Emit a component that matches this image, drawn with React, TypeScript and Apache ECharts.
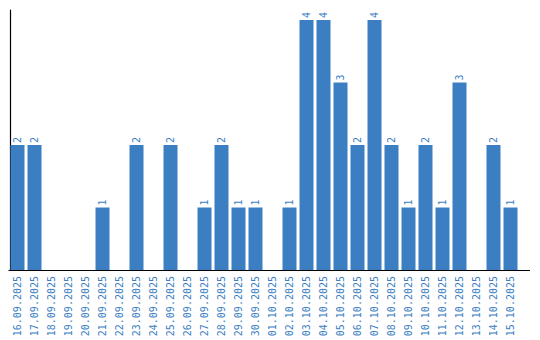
import React, { useEffect, useRef } from "react";
import * as echarts from "echarts";

const categories: string[] = [
  "16.09.2025", "17.09.2025", "18.09.2025", "19.09.2025", "20.09.2025",
  "21.09.2025", "22.09.2025", "23.09.2025", "24.09.2025", "25.09.2025",
  "26.09.2025", "27.09.2025", "28.09.2025", "29.09.2025", "30.09.2025",
  "01.10.2025", "02.10.2025", "03.10.2025", "04.10.2025", "05.10.2025",
  "06.10.2025", "07.10.2025", "08.10.2025", "09.10.2025", "10.10.2025",
  "11.10.2025", "12.10.2025", "13.10.2025", "14.10.2025", "15.10.2025",
];

const counts: number[] = [
  2, 2, 0, 0, 0, 1, 0, 2, 0, 2,
  0, 1, 2, 1, 1, 0, 1, 4, 4, 3,
  2, 4, 2, 1, 2, 1, 3, 0, 2, 1,
];

const BLUE = "#3b7ec2";
const FONT = "DejaVu Sans Mono";

export default function App() {
  const ref = useRef<HTMLDivElement>(null);
  useEffect(() => {
    if (!ref.current) return;
    const chart = echarts.init(ref.current, undefined, { renderer: "svg" });
    const gridLeft = 9;
    const gridTop = 10;
    const gridHeight = 260;
    const gridWidth = 510;
    chart.setOption({
      animation: false,
      grid: { left: gridLeft, top: gridTop, width: gridWidth, height: gridHeight },
      xAxis: {
        type: "category",
        data: categories,
        axisLine: { show: true, lineStyle: { color: "#000", width: 1 } },
        axisTick: { show: false },
        axisLabel: {
          rotate: 90,
          interval: 0,
          margin: 6,
          color: BLUE,
          fontFamily: FONT,
          fontSize: 10,
        },
      },
      yAxis: {
        type: "value",
        min: 0,
        max: 4.16,
        offset: -1.5,
        axisLine: { show: true, lineStyle: { color: "#000", width: 1.2 } },
        axisTick: { show: false },
        axisLabel: { show: false },
        splitLine: { show: false },
      },
      series: [
        {
          type: "bar",
          data: counts.map((v) => ({
            value: v,
            label: { show: v > 0 },
          })),
          barWidth: 14,
          itemStyle: { color: BLUE },
          label: {
            show: true,
            position: "top",
            rotate: 90,
            align: "left",
            verticalAlign: "middle",
            distance: 2,
            color: BLUE,
            fontFamily: FONT,
            fontSize: 10,
          },
        },
      ],
      graphic: [
        {
          type: "line",
          shape: {
            x1: gridLeft + gridWidth,
            y1: gridTop + gridHeight + 0.5,
            x2: 530,
            y2: gridTop + gridHeight + 0.5,
          },
          style: { stroke: "#000", lineWidth: 1 },
        },
      ],
    });
    return () => chart.dispose();
  }, []);
  return (
    <div
      ref={ref}
      style={{ position: "fixed", left: 0, top: 0, width: 540, height: 340, background: "#fff" }}
    />
  );
}
